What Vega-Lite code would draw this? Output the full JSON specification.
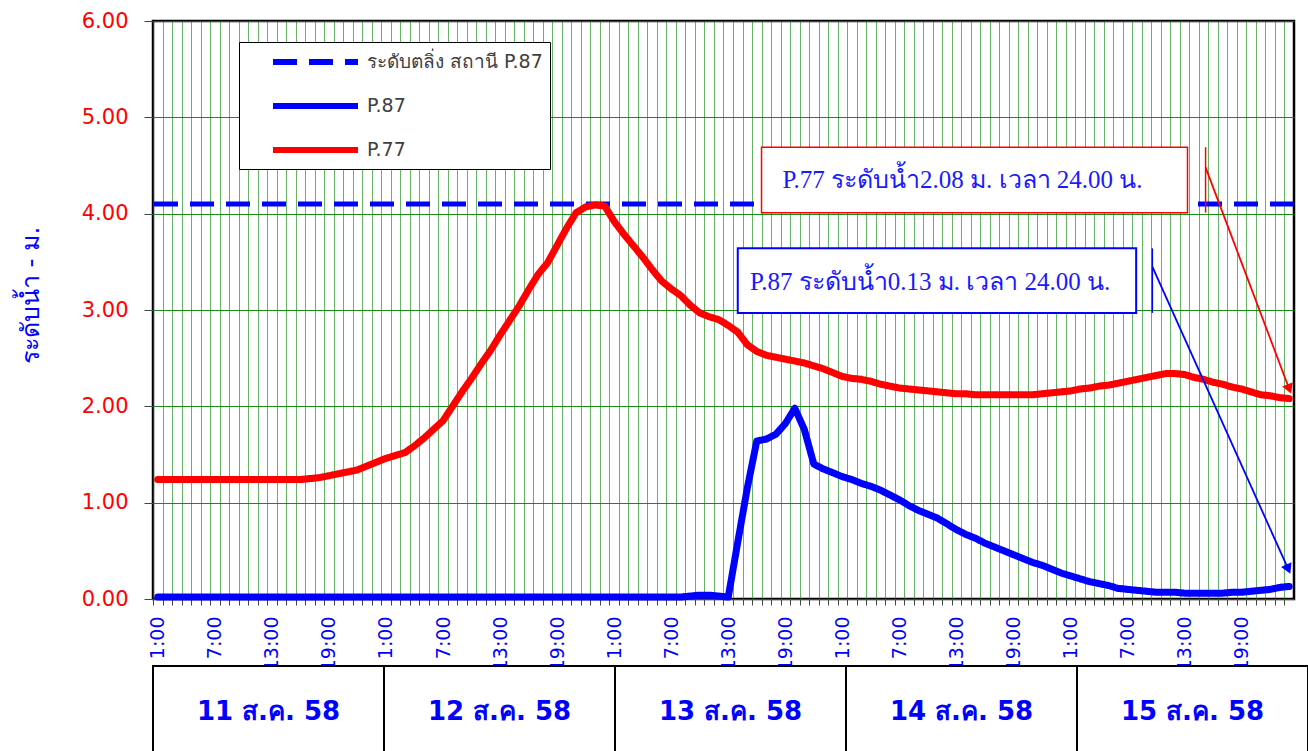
{
"$schema": "https://vega.github.io/schema/vega-lite/v6.json",
"padding": {"left": 16, "top": 8, "right": 0, "bottom": 0},
"background": "white",
"spacing": 67,
"bounds": "flush",
"resolve": {"legend": {"color": "independent", "strokeDash": "independent"}},
"vconcat": [
{
"width": 1141, "height": 578,
"view": {"stroke": "black", "strokeWidth": 2.5},
"layer": [
{
"data": {"values": [{"s": "ระดับตลิ่ง สถานี P.87", "v": 4.10}]},
"mark": {"type": "rule", "strokeWidth": 5},
"encoding": {
"y": {"field": "v", "type": "quantitative", "scale": {"domain": [0, 6], "nice": false}},
"color": {"field": "s", "type": "nominal", "scale": {"domain": ["ระดับตลิ่ง สถานี P.87", "P.87", "P.77"], "range": ["#0000FF", "#0000FF", "#FF0000"]}, "legend": {"title": null, "orient": "none", "legendX": 86, "legendY": 21, "symbolType": "M-4.25,0L4.25,0", "symbolSize": 400, "symbolStrokeWidth": 6, "symbolOffset": 56.5, "labelOffset": 38.5, "labelLimit": 400, "labelFontSize": 19, "labelFont": "DejaVu Sans", "labelColor": "#404040", "fillColor": "white", "strokeColor": "black", "padding": 7, "rowPadding": 19}},
"strokeDash": {"field": "s", "type": "nominal", "scale": {"domain": ["ระดับตลิ่ง สถานี P.87", "P.87", "P.77"], "range": [[24, 12], [1, 0], [1, 0]]}, "legend": {"title": null, "orient": "none", "legendX": 86, "legendY": 21, "symbolType": "M-4.25,0L4.25,0", "symbolSize": 400, "symbolStrokeWidth": 6, "symbolOffset": 56.5, "labelOffset": 38.5, "labelLimit": 400, "labelFontSize": 19, "labelFont": "DejaVu Sans", "labelColor": "#404040", "fillColor": "white", "strokeColor": "black", "padding": 7, "rowPadding": 19}}
}
},
{
"data": {"values": [
{"h":0,"s":"P.87","v":0.02},{"h":1,"s":"P.87","v":0.02},{"h":2,"s":"P.87","v":0.02},{"h":3,"s":"P.87","v":0.02},{"h":4,"s":"P.87","v":0.02},{"h":5,"s":"P.87","v":0.02},{"h":6,"s":"P.87","v":0.02},{"h":7,"s":"P.87","v":0.02},{"h":8,"s":"P.87","v":0.02},{"h":9,"s":"P.87","v":0.02},
{"h":10,"s":"P.87","v":0.02},{"h":11,"s":"P.87","v":0.02},{"h":12,"s":"P.87","v":0.02},{"h":13,"s":"P.87","v":0.02},{"h":14,"s":"P.87","v":0.02},{"h":15,"s":"P.87","v":0.02},{"h":16,"s":"P.87","v":0.02},{"h":17,"s":"P.87","v":0.02},{"h":18,"s":"P.87","v":0.02},{"h":19,"s":"P.87","v":0.02},
{"h":20,"s":"P.87","v":0.02},{"h":21,"s":"P.87","v":0.02},{"h":22,"s":"P.87","v":0.02},{"h":23,"s":"P.87","v":0.02},{"h":24,"s":"P.87","v":0.02},{"h":25,"s":"P.87","v":0.02},{"h":26,"s":"P.87","v":0.02},{"h":27,"s":"P.87","v":0.02},{"h":28,"s":"P.87","v":0.02},{"h":29,"s":"P.87","v":0.02},
{"h":30,"s":"P.87","v":0.02},{"h":31,"s":"P.87","v":0.02},{"h":32,"s":"P.87","v":0.02},{"h":33,"s":"P.87","v":0.02},{"h":34,"s":"P.87","v":0.02},{"h":35,"s":"P.87","v":0.02},{"h":36,"s":"P.87","v":0.02},{"h":37,"s":"P.87","v":0.02},{"h":38,"s":"P.87","v":0.02},{"h":39,"s":"P.87","v":0.02},
{"h":40,"s":"P.87","v":0.02},{"h":41,"s":"P.87","v":0.02},{"h":42,"s":"P.87","v":0.02},{"h":43,"s":"P.87","v":0.02},{"h":44,"s":"P.87","v":0.02},{"h":45,"s":"P.87","v":0.02},{"h":46,"s":"P.87","v":0.02},{"h":47,"s":"P.87","v":0.02},{"h":48,"s":"P.87","v":0.02},{"h":49,"s":"P.87","v":0.02},
{"h":50,"s":"P.87","v":0.02},{"h":51,"s":"P.87","v":0.02},{"h":52,"s":"P.87","v":0.02},{"h":53,"s":"P.87","v":0.02},{"h":54,"s":"P.87","v":0.02},{"h":55,"s":"P.87","v":0.02},{"h":56,"s":"P.87","v":0.03},{"h":57,"s":"P.87","v":0.04},{"h":58,"s":"P.87","v":0.04},{"h":59,"s":"P.87","v":0.03},
{"h":60,"s":"P.87","v":0.02},{"h":61,"s":"P.87","v":0.59},{"h":62,"s":"P.87","v":1.15},{"h":63,"s":"P.87","v":1.64},{"h":64,"s":"P.87","v":1.66},{"h":65,"s":"P.87","v":1.71},{"h":66,"s":"P.87","v":1.82},{"h":67,"s":"P.87","v":1.98},{"h":68,"s":"P.87","v":1.76},{"h":69,"s":"P.87","v":1.40},
{"h":70,"s":"P.87","v":1.35},{"h":71,"s":"P.87","v":1.31},{"h":72,"s":"P.87","v":1.27},{"h":73,"s":"P.87","v":1.24},{"h":74,"s":"P.87","v":1.20},{"h":75,"s":"P.87","v":1.17},{"h":76,"s":"P.87","v":1.13},{"h":77,"s":"P.87","v":1.08},{"h":78,"s":"P.87","v":1.03},{"h":79,"s":"P.87","v":0.97},
{"h":80,"s":"P.87","v":0.92},{"h":81,"s":"P.87","v":0.88},{"h":82,"s":"P.87","v":0.84},{"h":83,"s":"P.87","v":0.78},{"h":84,"s":"P.87","v":0.72},{"h":85,"s":"P.87","v":0.67},{"h":86,"s":"P.87","v":0.63},{"h":87,"s":"P.87","v":0.58},{"h":88,"s":"P.87","v":0.54},{"h":89,"s":"P.87","v":0.50},
{"h":90,"s":"P.87","v":0.46},{"h":91,"s":"P.87","v":0.42},{"h":92,"s":"P.87","v":0.38},{"h":93,"s":"P.87","v":0.35},{"h":94,"s":"P.87","v":0.31},{"h":95,"s":"P.87","v":0.27},{"h":96,"s":"P.87","v":0.24},{"h":97,"s":"P.87","v":0.21},{"h":98,"s":"P.87","v":0.18},{"h":99,"s":"P.87","v":0.16},
{"h":100,"s":"P.87","v":0.14},{"h":101,"s":"P.87","v":0.11},{"h":102,"s":"P.87","v":0.10},{"h":103,"s":"P.87","v":0.09},{"h":104,"s":"P.87","v":0.08},{"h":105,"s":"P.87","v":0.07},{"h":106,"s":"P.87","v":0.07},{"h":107,"s":"P.87","v":0.07},{"h":108,"s":"P.87","v":0.06},{"h":109,"s":"P.87","v":0.06},
{"h":110,"s":"P.87","v":0.06},{"h":111,"s":"P.87","v":0.06},{"h":112,"s":"P.87","v":0.06},{"h":113,"s":"P.87","v":0.07},{"h":114,"s":"P.87","v":0.07},{"h":115,"s":"P.87","v":0.08},{"h":116,"s":"P.87","v":0.09},{"h":117,"s":"P.87","v":0.10},{"h":118,"s":"P.87","v":0.12},{"h":119,"s":"P.87","v":0.13},
{"h":0,"s":"P.77","v":1.24},{"h":1,"s":"P.77","v":1.24},{"h":2,"s":"P.77","v":1.24},{"h":3,"s":"P.77","v":1.24},{"h":4,"s":"P.77","v":1.24},{"h":5,"s":"P.77","v":1.24},{"h":6,"s":"P.77","v":1.24},{"h":7,"s":"P.77","v":1.24},{"h":8,"s":"P.77","v":1.24},{"h":9,"s":"P.77","v":1.24},
{"h":10,"s":"P.77","v":1.24},{"h":11,"s":"P.77","v":1.24},{"h":12,"s":"P.77","v":1.24},{"h":13,"s":"P.77","v":1.24},{"h":14,"s":"P.77","v":1.24},{"h":15,"s":"P.77","v":1.24},{"h":16,"s":"P.77","v":1.25},{"h":17,"s":"P.77","v":1.26},{"h":18,"s":"P.77","v":1.28},{"h":19,"s":"P.77","v":1.30},
{"h":20,"s":"P.77","v":1.32},{"h":21,"s":"P.77","v":1.34},{"h":22,"s":"P.77","v":1.38},{"h":23,"s":"P.77","v":1.42},{"h":24,"s":"P.77","v":1.46},{"h":25,"s":"P.77","v":1.49},{"h":26,"s":"P.77","v":1.52},{"h":27,"s":"P.77","v":1.59},{"h":28,"s":"P.77","v":1.67},{"h":29,"s":"P.77","v":1.76},
{"h":30,"s":"P.77","v":1.85},{"h":31,"s":"P.77","v":2.00},{"h":32,"s":"P.77","v":2.15},{"h":33,"s":"P.77","v":2.29},{"h":34,"s":"P.77","v":2.44},{"h":35,"s":"P.77","v":2.58},{"h":36,"s":"P.77","v":2.74},{"h":37,"s":"P.77","v":2.89},{"h":38,"s":"P.77","v":3.04},{"h":39,"s":"P.77","v":3.21},
{"h":40,"s":"P.77","v":3.37},{"h":41,"s":"P.77","v":3.49},{"h":42,"s":"P.77","v":3.67},{"h":43,"s":"P.77","v":3.85},{"h":44,"s":"P.77","v":4.01},{"h":45,"s":"P.77","v":4.07},{"h":46,"s":"P.77","v":4.09},{"h":47,"s":"P.77","v":4.08},{"h":48,"s":"P.77","v":3.92},{"h":49,"s":"P.77","v":3.79},
{"h":50,"s":"P.77","v":3.67},{"h":51,"s":"P.77","v":3.55},{"h":52,"s":"P.77","v":3.42},{"h":53,"s":"P.77","v":3.30},{"h":54,"s":"P.77","v":3.22},{"h":55,"s":"P.77","v":3.15},{"h":56,"s":"P.77","v":3.05},{"h":57,"s":"P.77","v":2.97},{"h":58,"s":"P.77","v":2.93},{"h":59,"s":"P.77","v":2.90},
{"h":60,"s":"P.77","v":2.84},{"h":61,"s":"P.77","v":2.77},{"h":62,"s":"P.77","v":2.64},{"h":63,"s":"P.77","v":2.57},{"h":64,"s":"P.77","v":2.53},{"h":65,"s":"P.77","v":2.51},{"h":66,"s":"P.77","v":2.49},{"h":67,"s":"P.77","v":2.47},{"h":68,"s":"P.77","v":2.45},{"h":69,"s":"P.77","v":2.42},
{"h":70,"s":"P.77","v":2.39},{"h":71,"s":"P.77","v":2.35},{"h":72,"s":"P.77","v":2.31},{"h":73,"s":"P.77","v":2.29},{"h":74,"s":"P.77","v":2.28},{"h":75,"s":"P.77","v":2.26},{"h":76,"s":"P.77","v":2.23},{"h":77,"s":"P.77","v":2.21},{"h":78,"s":"P.77","v":2.19},{"h":79,"s":"P.77","v":2.18},
{"h":80,"s":"P.77","v":2.17},{"h":81,"s":"P.77","v":2.16},{"h":82,"s":"P.77","v":2.15},{"h":83,"s":"P.77","v":2.14},{"h":84,"s":"P.77","v":2.13},{"h":85,"s":"P.77","v":2.13},{"h":86,"s":"P.77","v":2.12},{"h":87,"s":"P.77","v":2.12},{"h":88,"s":"P.77","v":2.12},{"h":89,"s":"P.77","v":2.12},
{"h":90,"s":"P.77","v":2.12},{"h":91,"s":"P.77","v":2.12},{"h":92,"s":"P.77","v":2.12},{"h":93,"s":"P.77","v":2.13},{"h":94,"s":"P.77","v":2.14},{"h":95,"s":"P.77","v":2.15},{"h":96,"s":"P.77","v":2.16},{"h":97,"s":"P.77","v":2.18},{"h":98,"s":"P.77","v":2.19},{"h":99,"s":"P.77","v":2.21},
{"h":100,"s":"P.77","v":2.22},{"h":101,"s":"P.77","v":2.24},{"h":102,"s":"P.77","v":2.26},{"h":103,"s":"P.77","v":2.28},{"h":104,"s":"P.77","v":2.30},{"h":105,"s":"P.77","v":2.32},{"h":106,"s":"P.77","v":2.34},{"h":107,"s":"P.77","v":2.34},{"h":108,"s":"P.77","v":2.33},{"h":109,"s":"P.77","v":2.30},
{"h":110,"s":"P.77","v":2.28},{"h":111,"s":"P.77","v":2.25},{"h":112,"s":"P.77","v":2.23},{"h":113,"s":"P.77","v":2.20},{"h":114,"s":"P.77","v":2.18},{"h":115,"s":"P.77","v":2.15},{"h":116,"s":"P.77","v":2.12},{"h":117,"s":"P.77","v":2.11},{"h":118,"s":"P.77","v":2.09},{"h":119,"s":"P.77","v":2.08}
]},
"mark": {"type": "line", "strokeWidth": 7, "strokeJoin": "round", "strokeCap": "round"},
"encoding": {
"x": {"field": "h", "type": "quantitative", "scale": {"domain": [-0.5, 119.5], "nice": false, "zero": false},
 "axis": {"title": null, "tickCount": 120, "labelExpr": "datum.value % 6 == 0 ? ((datum.value % 24) + 1) + ':00' : ''", "labelAngle": -90, "labelColor": "#0000FF", "labelFontSize": 19, "labelFont": "DejaVu Sans", "labelPadding": 11, "labelOverlap": false, "labelFlush": false, "tickSize": 6, "tickColor": "#444444", "tickOffset": -4.755, "labelOffset": 4.755, "grid": true, "gridColor": "#008000", "gridOpacity": 0.6, "domain": false}},
"y": {"field": "v", "type": "quantitative", "scale": {"domain": [0, 6], "nice": false},
 "axis": {"title": "ระดับน้ำ - ม.", "titleColor": "#0000FF", "titleFontSize": 25, "titleFontWeight": "normal", "titleFont": "DejaVu Sans", "titlePadding": 38, "titleY": 274, "tickCount": 6, "format": ".2f", "labelColor": "#FF0000", "labelFontSize": 21, "labelFont": "DejaVu Sans", "labelPadding": 16, "tickSize": 9, "tickColor": "#444444", "grid": true, "gridColor": "#008000", "gridOpacity": 0.9, "domain": false}},
"color": {"field": "s", "type": "nominal"},
"strokeDash": {"field": "s", "type": "nominal"}
}
},
{
"data": {"values": [{}]},
"mark": {"type": "rect", "fill": "white", "stroke": "#FF0000", "strokeWidth": 1.5},
"encoding": {"x": {"datum": 63.5, "type": "quantitative"}, "x2": {"datum": 108.3}, "y": {"datum": 4.69, "type": "quantitative"}, "y2": {"datum": 4.01}}
},
{
"data": {"values": [{}]},
"mark": {"type": "rect", "fill": "white", "stroke": "#0000FF", "strokeWidth": 2},
"encoding": {"x": {"datum": 61.0, "type": "quantitative"}, "x2": {"datum": 102.9}, "y": {"datum": 3.64, "type": "quantitative"}, "y2": {"datum": 2.97}}
},
{
"data": {"values": [{"t": "P.77 ระดับน้ำ2.08 ม. เวลา 24.00 น."}]},
"mark": {"type": "text", "align": "left", "baseline": "middle", "font": "Liberation Serif", "fontSize": 25, "color": "#1a1aff"},
"encoding": {"x": {"datum": 65.7, "type": "quantitative"}, "y": {"datum": 4.35, "type": "quantitative"}, "text": {"field": "t"}}
},
{
"data": {"values": [{"t": "P.87 ระดับน้ำ0.13 ม. เวลา 24.00 น."}]},
"mark": {"type": "text", "align": "left", "baseline": "middle", "font": "Liberation Serif", "fontSize": 25, "color": "#1a1aff"},
"encoding": {"x": {"datum": 62.3, "type": "quantitative"}, "y": {"datum": 3.29, "type": "quantitative"}, "text": {"field": "t"}}
},
{
"data": {"values": [{}]},
"mark": {"type": "rule", "color": "#FF0000", "strokeWidth": 1.5},
"encoding": {"x": {"datum": 110.2, "type": "quantitative"}, "y": {"datum": 4.69, "type": "quantitative"}, "y2": {"datum": 4.01}}
},
{
"data": {"values": [{}]},
"mark": {"type": "rule", "color": "#FF0000", "strokeWidth": 1.8},
"encoding": {"x": {"datum": 110.2, "type": "quantitative"}, "y": {"datum": 4.48, "type": "quantitative"}, "x2": {"datum": 119.0}, "y2": {"datum": 2.18}}
},
{
"data": {"values": [{}]},
"mark": {"type": "point", "shape": "triangle-down", "filled": true, "size": 130, "angle": -20.7, "color": "#FF0000", "opacity": 1},
"encoding": {"x": {"datum": 119.0, "type": "quantitative"}, "y": {"datum": 2.18, "type": "quantitative"}}
},
{
"data": {"values": [{}]},
"mark": {"type": "rule", "color": "#0000FF", "strokeWidth": 1.5},
"encoding": {"x": {"datum": 104.6, "type": "quantitative"}, "y": {"datum": 3.64, "type": "quantitative"}, "y2": {"datum": 2.97}}
},
{
"data": {"values": [{}]},
"mark": {"type": "rule", "color": "#0000FF", "strokeWidth": 1.8},
"encoding": {"x": {"datum": 104.6, "type": "quantitative"}, "y": {"datum": 3.45, "type": "quantitative"}, "x2": {"datum": 118.9}, "y2": {"datum": 0.31}}
},
{
"data": {"values": [{}]},
"mark": {"type": "point", "shape": "triangle-down", "filled": true, "size": 130, "angle": -24.1, "color": "#0000FF", "opacity": 1},
"encoding": {"x": {"datum": 118.9, "type": "quantitative"}, "y": {"datum": 0.31, "type": "quantitative"}}
}
]
},
{
"width": 1155, "height": 92,
"view": {"stroke": null},
"data": {"values": [{"d": "11 ส.ค. 58"}, {"d": "12 ส.ค. 58"}, {"d": "13 ส.ค. 58"}, {"d": "14 ส.ค. 58"}, {"d": "15 ส.ค. 58"}]},
"layer": [
{
"mark": {"type": "rect", "fill": "white", "stroke": "black", "strokeWidth": 2},
"encoding": {"x": {"field": "d", "type": "nominal", "sort": null, "axis": null, "scale": {"paddingInner": 0, "paddingOuter": 0}}}
},
{
"mark": {"type": "text", "fontSize": 26, "fontWeight": "bold", "font": "DejaVu Sans", "color": "#0000FF", "baseline": "middle"},
"encoding": {"x": {"field": "d", "type": "nominal", "sort": null, "axis": null}, "text": {"field": "d"}}
}
]
}
]
}
